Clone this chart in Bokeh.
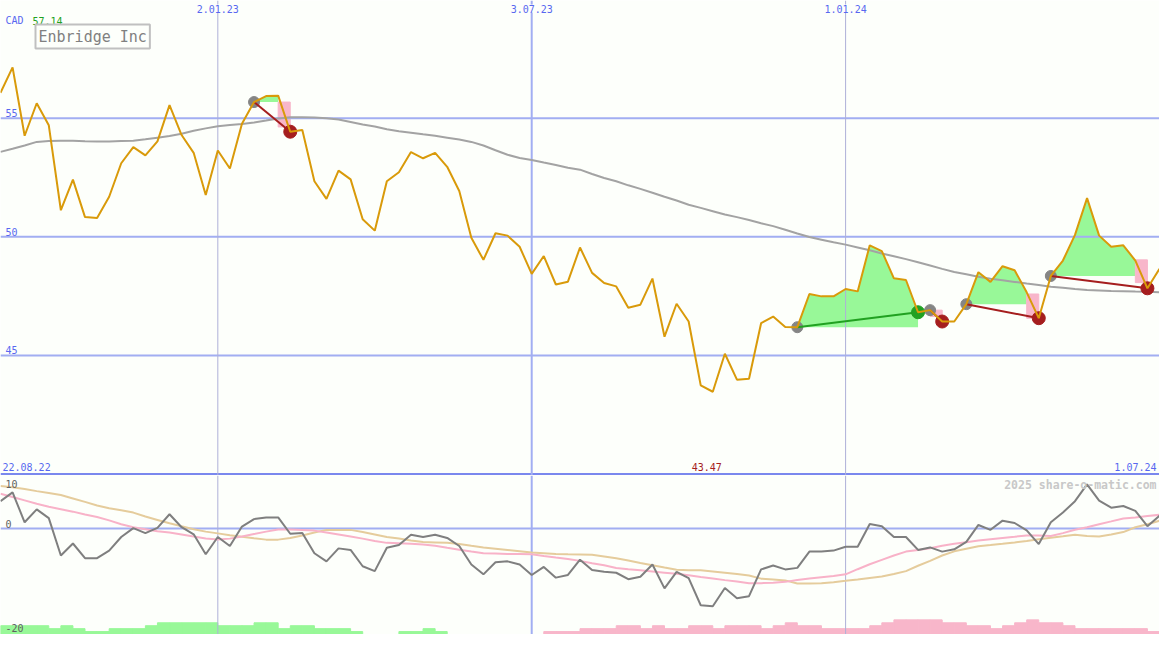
import numpy as np
import pandas as pd
from bokeh.plotting import figure
from bokeh.layouts import column
from bokeh.models import Range1d, Span, Label
from bokeh.embed import file_html
from bokeh.resources import INLINE

# ---------------- data ----------------
start_date = "2022-08-29"          # weekly closes
first_label = "22.08.22"
last_label = "1.07.24"
currency = "CAD"
title = "Enbridge Inc"
watermark = "2025 share-o-matic.com"

price = [56.07, 57.14, 54.26, 55.63, 54.70, 51.12, 52.41, 50.83, 50.79, 51.69,
         53.10, 53.78, 53.43, 54.02, 55.55, 54.29, 53.54, 51.76, 53.64, 52.88,
         54.77, 55.68, 55.93, 55.95, 54.43, 54.50, 52.34, 51.60, 52.79, 52.42,
         50.74, 50.26, 52.34, 52.72, 53.57, 53.31, 53.54, 52.95, 51.93, 49.96,
         49.03, 50.15, 50.05, 49.58, 48.44, 49.19, 47.99, 48.11, 49.55, 48.48,
         48.05, 47.91, 47.01, 47.14, 48.24, 45.79, 47.18, 46.43, 43.74, 43.47,
         45.07, 43.98, 44.02, 46.36, 46.64, 46.20, 46.19, 47.59, 47.49, 47.49,
         47.80, 47.70, 49.64, 49.40, 48.25, 48.18, 46.82, 46.91, 46.43, 46.43,
         47.16, 48.51, 48.10, 48.76, 48.59, 47.66, 46.57, 48.35, 49.00, 50.08,
         51.63, 50.05, 49.58, 49.64, 49.00, 47.83, 48.65]

moving_avg = [53.58, 53.71, 53.85, 54.00, 54.04, 54.05, 54.05, 54.03, 54.02, 54.02,
              54.04, 54.05, 54.11, 54.18, 54.25, 54.34, 54.47, 54.57, 54.66, 54.71,
              54.75, 54.82, 54.90, 54.99, 55.04, 55.04, 55.03, 55.00, 54.94, 54.84,
              54.73, 54.65, 54.53, 54.45, 54.39, 54.32, 54.26, 54.18, 54.10, 54.00,
              53.85, 53.65, 53.46, 53.32, 53.24, 53.13, 53.03, 52.91, 52.83, 52.65,
              52.48, 52.34, 52.17, 52.02, 51.86, 51.69, 51.53, 51.35, 51.22, 51.08,
              50.94, 50.83, 50.71, 50.57, 50.45, 50.30, 50.14, 49.99, 49.88, 49.77,
              49.67, 49.55, 49.43, 49.30, 49.18, 49.06, 48.93, 48.79, 48.65, 48.52,
              48.42, 48.32, 48.23, 48.17, 48.10, 48.03, 47.97, 47.90, 47.85, 47.80,
              47.76, 47.74, 47.72, 47.71, 47.69, 47.68, 47.66]

momentum = [5.16, 6.82, 1.17, 3.61, 1.96, -5.09, -2.83, -5.59, -5.59, -4.17,
            -1.60, 0.06, -0.86, 0.12, 2.69, 0.24, -1.10, -4.85, -1.60, -3.31,
            0.37, 1.77, 2.09, 2.09, -0.99, -0.86, -4.67, -6.20, -3.75, -4.04,
            -7.12, -8.04, -3.62, -3.12, -1.17, -1.60, -1.17, -1.78, -3.31, -6.80,
            -8.65, -6.38, -6.20, -6.80, -8.77, -7.25, -9.27, -8.77, -5.88, -7.85,
            -8.17, -8.35, -9.57, -9.09, -6.80, -11.30, -8.17, -9.38, -14.48, -14.66,
            -11.22, -13.14, -12.77, -7.72, -6.99, -7.72, -7.43, -4.36, -4.36, -4.17,
            -3.44, -3.44, 0.85, 0.43, -1.60, -1.60, -4.04, -3.57, -4.36, -3.93,
            -2.52, 0.67, -0.25, 1.48, 1.04, -0.36, -2.94, 1.17, 3.01, 5.16,
            8.34, 5.27, 3.93, 4.24, 3.32, 0.43, 2.40]

signal_fast = [6.55, 5.94, 5.30, 4.66, 4.10, 3.64, 3.18, 2.63, 2.17, 1.53,
               0.79, 0.24, -0.13, -0.50, -0.77, -1.14, -1.51, -1.88, -2.06, -1.91,
               -1.51, -1.05, -0.59, -0.18, -0.18, -0.26, -0.40, -0.77, -1.14, -1.51,
               -1.91, -2.34, -2.71, -2.80, -2.89, -3.02, -3.26, -3.63, -3.99, -4.36,
               -4.67, -4.73, -4.79, -4.82, -4.86, -5.19, -5.47, -5.74, -6.11, -6.57,
               -6.94, -7.44, -7.68, -7.90, -8.12, -8.34, -8.56, -8.82, -9.15, -9.44,
               -9.74, -10.01, -10.31, -10.31, -10.25, -10.07, -9.70, -9.44, -9.18, -8.96,
               -8.65, -7.68, -6.75, -5.93, -5.10, -4.36, -4.05, -3.72, -3.26, -2.89,
               -2.58, -2.26, -2.02, -1.79, -1.56, -1.31, -1.33, -1.42, -0.87, -0.22,
               0.24, 0.79, 1.34, 1.90, 2.08, 2.36, 2.58]

signal_slow = [8.02, 7.79, 7.45, 7.05, 6.68, 6.31, 5.67, 5.02, 4.34, 3.83,
               3.46, 3.00, 2.26, 1.62, 0.98, 0.42, -0.13, -0.59, -0.92, -1.29,
               -1.56, -1.84, -2.10, -2.10, -1.79, -1.33, -0.77, -0.26, -0.26, -0.26,
               -0.68, -1.14, -1.60, -1.88, -2.25, -2.56, -2.63, -2.71, -2.93, -3.26,
               -3.57, -3.81, -4.05, -4.29, -4.55, -4.67, -4.79, -4.86, -4.91, -4.97,
               -5.28, -5.60, -6.02, -6.52, -6.94, -7.36, -7.77, -7.90, -7.86, -8.10,
               -8.34, -8.60, -8.87, -9.46, -9.61, -9.79, -10.38, -10.38, -10.31, -10.12,
               -9.88, -9.61, -9.33, -9.06, -8.60, -8.04, -7.03, -6.11, -5.10, -4.31,
               -3.81, -3.35, -3.13, -2.89, -2.63, -2.34, -2.02, -1.75, -1.47, -1.18,
               -1.42, -1.51, -1.14, -0.68, 0.24, 0.79, 1.47]

histogram = [3, 3, 3, 3, 2, 3, 2, 1, 1, 2,
             2, 2, 3, 4, 4, 4, 4, 4, 3, 3,
             3, 4, 4, 2, 3, 3, 2, 2, 2, 1,
             0, 0, 0, 1, 1, 2, 1, 0, 0, 0,
             0, 0, 0, 0, 0, -1, -1, -1, -2, -2,
             -2, -3, -3, -2, -3, -2, -2, -3, -3, -2,
             -3, -3, -3, -2, -3, -4, -3, -3, -2, -2,
             -2, -2, -3, -4, -5, -5, -5, -5, -4, -4,
             -3, -3, -2, -3, -4, -5, -4, -4, -3, -2,
             -2, -2, -2, -2, -2, -1, 0]

# trades: week index of entry / exit
trade_entry = [21, 66, 77, 80, 87]
trade_exit = [24, 76, 78, 86, 95]
trade_win = [False, True, False, False, False]
loss_top = [55.68, None, 46.91, 47.59, 49.03]
loss_bottom = [54.63, None, 46.64, 46.57, 48.07]

# axes
x_tick_dates = ["2023-01-02", "2023-07-03", "2024-01-01"]
x_tick_labels = ["2.01.23", "3.07.23", "1.01.24"]
price_ticks = [55, 50, 45]
price_tick_labels = ["55", "50", "45"]
osc_ticks = [10, 0, -20]
osc_tick_labels = ["10", "0", "-20"]

# ---------------- style ----------------
W, HT, HB = 1159, 475, 159
BG = "#fdfffb"
BLUE_TXT = "#5868f0"
GRID = "#a2aef2"
SEP = "#7a88ee"
VGRID_JAN = "#aeb0d8"
ORANGE = "#d99a0a"
MA_GREY = "#a3a3a3"
GREEN_FILL = "#98f898"
PINK_FILL = "#f8b6ca"
RED = "#a51e1e"
GREEN = "#21a121"
FONT = "DejaVu Sans Mono"

price = np.array(price)
dates = pd.date_range(start_date, periods=len(price), freq="7D")
x = dates.asi8 / 1e6
week = x[1] - x[0]
tick_x = pd.to_datetime(x_tick_dates).asi8 / 1e6
tick_month = pd.to_datetime(x_tick_dates).month

common = dict(width=W, output_backend="svg", toolbar_location=None, min_border=0,
              x_axis_location=None, y_axis_location=None,
              background_fill_color=BG, border_fill_color=BG, outline_line_color=None)


def no_grid(p):
    for g in p.grid:
        g.visible = False
        g.grid_line_color = None


# ---------------- top panel ----------------
top = figure(height=HT, x_range=Range1d(x[0], x[-1]), y_range=Range1d(39.94, 59.96), **common)
no_grid(top)

for e, ex, w in zip(trade_entry, trade_exit, trade_win):
    end = ex if w else ex - 1
    if end > e:
        seg = slice(e, end + 1)
        ys = np.maximum(price[seg], price[e])
        top.varea(x=x[seg], y1=np.full(len(ys), price[e]), y2=ys,
                  color=GREEN_FILL, level="image")

li = [i for i, w in enumerate(trade_win) if not w]
top.quad(left=[x[trade_exit[i] - 1] for i in li], right=[x[trade_exit[i]] for i in li],
         top=[loss_top[i] for i in li], bottom=[loss_bottom[i] for i in li],
         color=PINK_FILL, level="image")

for v in price_ticks:
    top.add_layout(Span(location=v, dimension="width", line_color=GRID,
                        line_width=2, level="underlay"))
top.add_layout(Span(location=40.0, dimension="width", line_color=SEP,
                    line_width=2, level="underlay"))
for tx, m in zip(tick_x, tick_month):
    jan = m == 1
    top.add_layout(Span(location=tx, dimension="height",
                        line_color=VGRID_JAN if jan else GRID,
                        line_width=1 if jan else 2, level="underlay"))

top.line(x, moving_avg, color=MA_GREY, line_width=2)

ent = np.array(trade_entry)
exi = np.array(trade_exit)
top.scatter(x[ent], price[ent], size=11, color="#858585")
top.segment(x0=x[ent], y0=price[ent], x1=x[exi], y1=price[exi],
            color=[GREEN if w else RED for w in trade_win], line_width=2)
top.scatter(x[exi], price[exi], size=13,
            color=[GREEN if w else RED for w in trade_win])
top.line(x, price, color=ORANGE, line_width=2)

lbl = dict(text_font=FONT, text_font_size="10px")
for tx, t in zip(tick_x, x_tick_labels):
    top.add_layout(Label(x=tx, y=HT - 8, x_units="data", y_units="screen", text=t,
                         text_align="center", text_baseline="middle",
                         text_color=BLUE_TXT, background_fill_color=BG, **lbl))
for v, t in zip(price_ticks, price_tick_labels):
    top.add_layout(Label(x=x[0], y=v, x_offset=5, y_offset=1, text=t,
                         text_baseline="bottom", text_color=BLUE_TXT, **lbl))
top.add_layout(Label(x=x[0], y=40.0, x_offset=2, y_offset=3, text=first_label,
                     text_baseline="bottom", text_color=BLUE_TXT, **lbl))
top.add_layout(Label(x=x[-1], y=40.0, x_offset=-3, y_offset=3, text=last_label,
                     text_align="right", text_baseline="bottom", text_color=BLUE_TXT, **lbl))
imin = int(np.argmin(price))
top.add_layout(Label(x=x[imin], y=40.0, x_offset=-6, y_offset=3, text=f"{price.min():.2f}",
                     text_align="center", text_baseline="bottom", text_color=RED, **lbl))
top.add_layout(Label(x=5, y=HT - 20, x_units="screen", y_units="screen", text=currency,
                     text_baseline="middle", text_color=BLUE_TXT, **lbl))
top.add_layout(Label(x=32, y=HT - 20, x_units="screen", y_units="screen",
                     text=f"{price.max():.2f}", text_baseline="middle",
                     text_color=GREEN, **lbl))
top.add_layout(Label(x=35, y=HT - 36, x_units="screen", y_units="screen", text=title,
                     text_baseline="middle", text_font=FONT, text_font_size="15px",
                     text_color="#808080", border_line_color="#c0c0c0",
                     border_line_width=2, background_fill_color=BG, padding=3))

# ---------------- bottom panel ----------------
bot = figure(height=HB, x_range=top.x_range, y_range=Range1d(-20, 10),
             extra_y_ranges={"hist": Range1d(0, 54.3)}, **common)
no_grid(bot)

hist = np.array(histogram)
pos = hist > 0
neg = hist < 0
bot.quad(left=x[pos], right=x[pos] + week, bottom=0, top=hist[pos],
         y_range_name="hist", color=GREEN_FILL, level="image")
bot.quad(left=x[neg], right=x[neg] + week, bottom=0, top=-hist[neg],
         y_range_name="hist", color=PINK_FILL, level="image")

bot.add_layout(Span(location=0, dimension="width", line_color=GRID,
                    line_width=2, level="underlay"))
for tx, m in zip(tick_x, tick_month):
    jan = m == 1
    bot.add_layout(Span(location=tx, dimension="height",
                        line_color=VGRID_JAN if jan else GRID,
                        line_width=1 if jan else 2, level="underlay"))

bot.line(x, signal_slow, color="#e5cc9c", line_width=2)
bot.line(x, signal_fast, color="#f8b2c8", line_width=2)
bot.line(x, momentum, color="#7f7f7f", line_width=2)

bot.add_layout(Label(x=x[0], y=osc_ticks[0], x_offset=5, y_offset=-4, text=osc_tick_labels[0],
                     text_baseline="top", text_color="#606060", **lbl))
bot.add_layout(Label(x=x[0], y=osc_ticks[1], x_offset=5, y_offset=1, text=osc_tick_labels[1],
                     text_baseline="bottom", text_color="#606060", **lbl))
bot.add_layout(Label(x=x[0], y=osc_ticks[2], x_offset=5, y_offset=3, text=osc_tick_labels[2],
                     text_baseline="bottom", text_color="#606060", **lbl))
bot.add_layout(Label(x=W - 3, y=HB - 9, x_units="screen", y_units="screen", text=watermark,
                     text_align="right", text_baseline="middle", text_font=FONT,
                     text_font_size="11.5px", text_font_style="bold", text_color="#c8c8c8"))

layout = column(top, bot, spacing=0)
open("out.html", "w").write(file_html(layout, INLINE))
